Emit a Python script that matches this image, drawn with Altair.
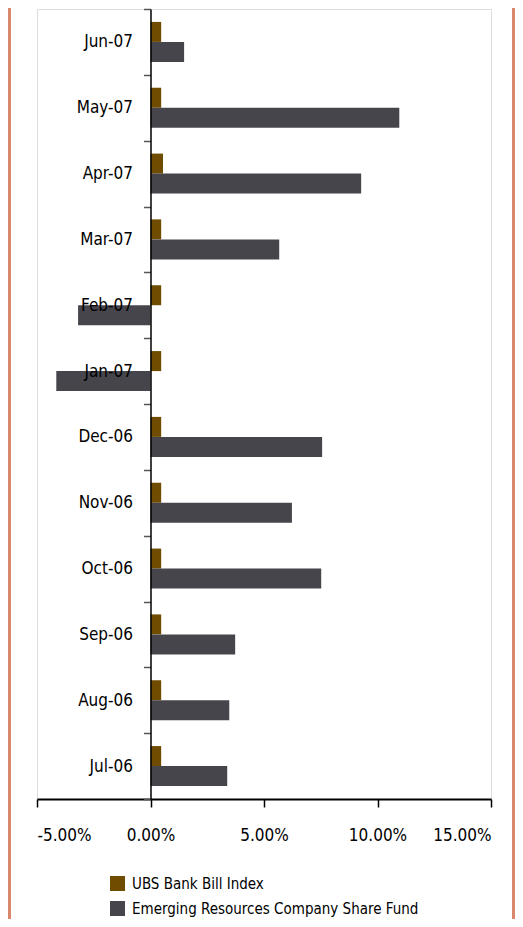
import altair as alt
import pandas as pd

months = ["Jul-06", "Aug-06", "Sep-06", "Oct-06", "Nov-06", "Dec-06",
          "Jan-07", "Feb-07", "Mar-07", "Apr-07", "May-07", "Jun-07"]
ubs = [0.47, 0.47, 0.47, 0.47, 0.47, 0.47, 0.47, 0.47, 0.47, 0.55, 0.47, 0.47]
fund = [3.38, 3.47, 3.73, 7.52, 6.23, 7.56, -4.15, -3.19, 5.67, 9.28, 10.96, 1.48]
series = ["UBS Bank Bill Index", "Emerging Resources Company Share Fund"]
colors = ["#704C00", "#46454C"]
x_ticks = [-5, 0, 5, 10, 15]

rows = []
for m, u, f in zip(months, ubs, fund):
    rows.append({"month": m, "series": series[0], "value": u / 100})
    rows.append({"month": m, "series": series[1], "value": f / 100})
df = pd.DataFrame(rows)

FONT = "DejaVu Sans Condensed, Roboto, sans-serif"
W, H = 454, 790

bars = alt.Chart(df).mark_bar().encode(
    x=alt.X("value:Q",
            scale=alt.Scale(domain=[-0.05, 0.15], nice=False, zero=False),
            axis=alt.Axis(values=[t / 100 for t in x_ticks],
                          labelExpr="replace(format(datum.value, '.2%'), '\u2212', '-')",
                          title=None, grid=False, domainColor="black",
                          domainWidth=2, tickColor="black", tickSize=8,
                          tickWidth=1.5, labelPadding=20, labelFontSize=17,
                          labelFont=FONT, labelColor="black")),
    y=alt.Y("month:N", sort=list(reversed(months)),
            scale=alt.Scale(paddingInner=0, paddingOuter=0),
            axis=alt.Axis(title=None, offset=-113.5, domainColor="black",
                          domainWidth=1.5, tickColor="#555555", tickSize=7,
                          tickWidth=1.5, tickBand="extent", labelPadding=11,
                          labelFontSize=17, labelFont=FONT, labelColor="black",
                          zindex=2)),
    yOffset=alt.YOffset("series:N", sort=series,
                        scale=alt.Scale(paddingInner=0, paddingOuter=0.645)),
    color=alt.Color("series:N", sort=series,
                    scale=alt.Scale(domain=series, range=colors),
                    legend=alt.Legend(title=None, orient="none",
                                      legendX=73, legendY=867,
                                      symbolType="square", symbolSize=225,
                                      symbolStrokeWidth=0, labelFontSize=15,
                                      labelFont=FONT, labelColor="black",
                                      rowPadding=9, labelOffset=7,
                                      labelLimit=400)),
)

left_border = alt.Chart(df).mark_rule(color="#D9876A", strokeWidth=3, clip=False).encode(
    x=alt.value(-27.5), y=alt.value(-2), y2=alt.value(930))
right_border = alt.Chart(df).mark_rule(color="#D9876A", strokeWidth=3, clip=False).encode(
    x=alt.value(476.5), y=alt.value(-2), y2=alt.value(930))

chart = alt.layer(bars, left_border, right_border).properties(
    width=W, height=H,
    autosize=alt.AutoSizeParams(type="none"),
    padding={"left": 29, "top": 1, "right": 24, "bottom": 120},
).configure_view(
    stroke="#8a8a8a", strokeWidth=2
).configure(background="white")

chart.save("out.html", embed_options={"renderer": "svg", "actions": False})
